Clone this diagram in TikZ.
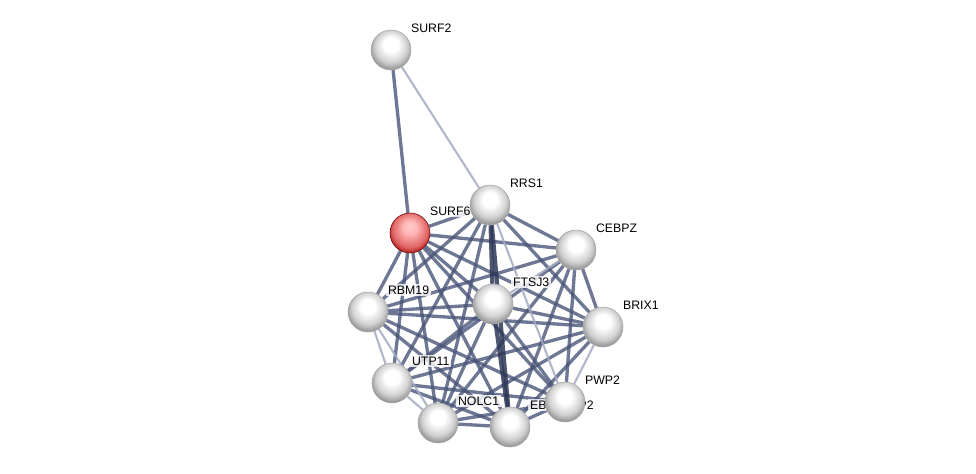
\documentclass[tikz,border=0pt]{standalone}
\usepackage{fontspec}
\setmainfont{Liberation Sans}
\usepackage{xcolor}
\pgfdeclarelayer{edges}
\pgfsetlayers{edges,main}
\definecolor{edgemid}{HTML}{4A5578}
\definecolor{edgelight}{HTML}{A3AAC2}
\definecolor{edgedark}{HTML}{2E3858}
\definecolor{querycol}{HTML}{E06464}
\pgfdeclareradialshading{protshade}{\pgfpoint{0bp}{9bp}}{color(0bp)=(white); color(9bp)=(white); color(20bp)=(black!18); color(28bp)=(black!45); color(40bp)=(black!50)}
\pgfdeclareradialshading{queryshade}{\pgfpoint{0bp}{9bp}}{color(0bp)=(red!20); color(9bp)=(red!30); color(22bp)=(querycol); color(30bp)=(red!60!black); color(40bp)=(red!60!black)}

\begin{document}
\begin{tikzpicture}[x=0.02cm, y=-0.02cm,
        prot/.style={circle, minimum size=0.8cm, inner sep=0pt, shading=protshade, draw=black!35, line width=0.3pt},
        query/.style={prot, shading=queryshade, draw=red!40!black},
        lbl/.style={anchor=west, font=\fontsize{7}{8}\selectfont, fill=white, fill opacity=0.8, text opacity=1, inner sep=1pt},
        mid/.style={draw=edgemid, line width=1.9pt, opacity=0.8},
        light/.style={draw=edgelight, line width=1.2pt, opacity=0.85},
        heavy/.style={draw=edgedark, line width=2.4pt, opacity=0.85}]
        \useasboundingbox (0,0) rectangle (976,473);

        % proteins
        \node[prot] (surf2) at (391,50) {};
        \node[lbl] (surf2l) at ([shift={(18,-22)}]surf2) {SURF2};
        \node[query] (surf6) at (410,233) {};
        \node[lbl] (surf6l) at ([shift={(18,-22)}]surf6) {SURF6};
        \node[prot] (rrs1) at (490,205) {};
        \node[lbl] (rrs1l) at ([shift={(18,-22)}]rrs1) {RRS1};
        \node[prot] (cebpz) at (576,250) {};
        \node[lbl] (cebpzl) at ([shift={(18,-22)}]cebpz) {CEBPZ};
        \node[prot] (ftsj3) at (493,304) {};
        \node[lbl] (ftsj3l) at ([shift={(18,-22)}]ftsj3) {FTSJ3};
        \node[prot] (rbm19) at (368,312) {};
        \node[lbl] (rbm19l) at ([shift={(18,-22)}]rbm19) {RBM19};
        \node[prot] (brix1) at (603,327) {};
        \node[lbl] (brix1l) at ([shift={(18,-22)}]brix1) {BRIX1};
        \node[prot] (utp11) at (392,383) {};
        \node[lbl] (utp11l) at ([shift={(18,-22)}]utp11) {UTP11};
        \node[prot] (nolc1) at (438,423) {};
        \node[lbl] (nolc1l) at ([shift={(18,-22)}]nolc1) {NOLC1};
        \node[prot] (ebna) at (510,427) {};
        \node[lbl] (ebnal) at ([shift={(18,-22)}]ebna) {EBNA1BP2};
        \node[prot] (pwp2) at (565,402) {};
        \node[lbl] (pwp2l) at ([shift={(18,-22)}]pwp2) {PWP2};

        % interactions
        \begin{pgfonlayer}{edges}
            \draw[mid] (surf2) -- (surf6);
            \draw[light] (surf2) -- (rrs1);
            \foreach \a/\b in {rrs1/surf6, rrs1/cebpz, rrs1/rbm19, rrs1/brix1, rrs1/utp11, rrs1/nolc1,
                    surf6/cebpz, surf6/ftsj3, surf6/rbm19, surf6/brix1, surf6/utp11, surf6/pwp2, surf6/nolc1, surf6/ebna,
                    cebpz/rbm19, cebpz/brix1, cebpz/utp11, cebpz/pwp2, cebpz/nolc1, cebpz/ebna,
                    ftsj3/rbm19, ftsj3/brix1, ftsj3/utp11, ftsj3/pwp2, ftsj3/nolc1,
                    rbm19/brix1, rbm19/pwp2, rbm19/ebna,
                    brix1/utp11, brix1/nolc1, brix1/ebna,
                    utp11/pwp2, utp11/ebna, pwp2/nolc1, pwp2/ebna, nolc1/ebna}
                \draw[mid] (\a) -- (\b);
            \foreach \a/\b in {rrs1/pwp2, cebpz/ftsj3, rbm19/utp11, rbm19/nolc1, brix1/pwp2, utp11/nolc1}
                \draw[light] (\a) -- (\b);
            \draw[heavy] (rrs1) -- (ftsj3);
            \draw[heavy] (rrs1) -- (ebna);
            \draw[heavy] (ftsj3) -- (ebna);
        \end{pgfonlayer}
    \end{tikzpicture}
\end{document}
